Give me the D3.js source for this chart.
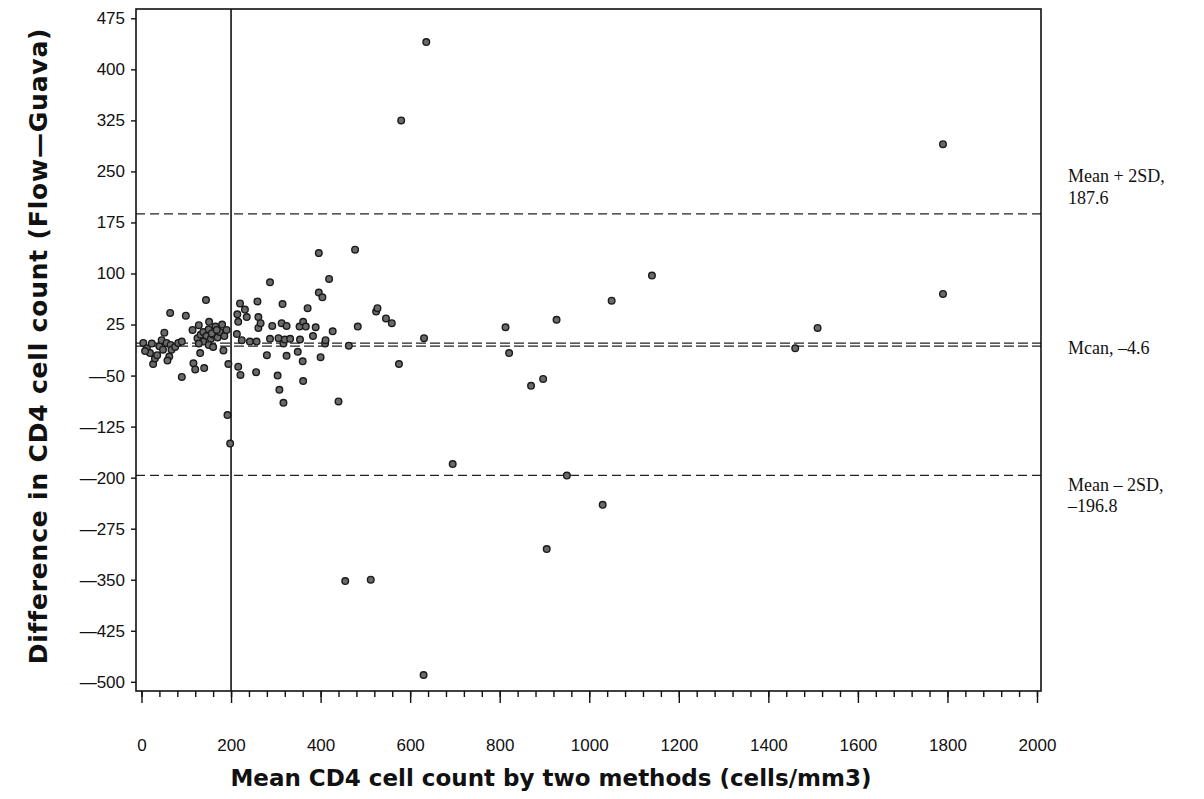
<!DOCTYPE html>
<html>
<head>
<meta charset="utf-8">
<script src="https://cdn.jsdelivr.net/npm/d3@7"></script>
<style>
  body { margin: 0; background: #fff; }
  svg text { fill: #111; }
</style>
</head>
<body>
<div id="chart"></div>
<script>
// Mean of the two methods (x) and difference Flow - Guava (y)
const meanCounts = [
  4, 12, 19, 23, 26, 30, 40, 45, 51, 56, 62, 64, 65, 67, 75, 82, 90, 90, 99, 114,
  116, 120, 128, 131, 140, 144, 151, 125, 132, 138, 145, 150, 155, 160, 165, 170, 175, 180, 185, 138,
  150, 128, 160, 157, 168, 190, 183, 192, 198, 194, 213, 214, 216, 216, 220, 221, 224, 231, 235, 242,
  256, 257, 259, 261, 261, 266, 280, 287, 287, 292, 304, 306, 308, 313, 315, 317, 317, 320, 324, 324,
  332, 349, 353, 354, 360, 361, 361, 367, 371, 383, 389, 396, 396, 400, 404, 410, 411, 419, 427, 440,
  463, 477, 483, 524, 527, 546, 559, 575, 580, 631, 636, 630, 455, 512, 695, 813, 821, 870, 897, 905,
  927, 950, 1030, 1050, 1140, 1460, 1510, 1790, 1790, 8, 35, 48, 58
];
const differences = [
  -2, -10, -17, -3, -33, -25, -7, 2, 13, -2, -22, 42, -5, -12, -8, -2, 0, -52, 38, 17,
  -32, -41, 24, -17, -39, 61, 29, 5, 10, 14, 8, 18, 4, 10, 22, 6, 14, 25, 8, 0,
  -5, -3, -8, 12, 17, 17, -13, -108, -150, -33, 11, 40, 29, -37, 56, -49, 2, 47, 36, 0,
  -45, 0, 59, 36, 20, 27, -20, 87, 4, 23, -50, 5, -71, 27, 55, -3, -90, 3, 23, -21,
  4, -15, 22, 3, -29, 29, -58, 22, 49, 8, 21, 72, 130, -23, 65, -3, 2, 92, 15, -88,
  -6, 135, 22, 44, 49, 34, 27, -33, 325, 5, 440, -490, -352, -350, -180, 21, -17, -65, -55, -305,
  32, -197, -240, 60, 97, -10, 20, 290, 70, -14, -20, -12, -28
];

// Limits of agreement and their hand-written labels
const limitValues = [187.6, -4.6, -196.8];
const limitLabels = [["Mean + 2SD,", "187.6"], ["Mcan, \u20134.6"], ["Mean \u2013 2SD,", "\u2013196.8"]];
const cutoffValue = 200;

const xTicks = d3.range(0, 2001, 200);
const xMinorTicks = d3.range(0, 2001, 40);
const yTicks = d3.range(-500, 476, 75);

const frame = { left: 136, right: 1041, top: 9, bottom: 691 };
const sans = '"Liberation Sans", Arial, sans-serif';
const titleFont = '"DejaVu Sans", "Liberation Sans", sans-serif';

const svg = d3.select('#chart').append('svg')
  .attr('width', 1204)
  .attr('height', 799);

const xScale = d3.scaleLinear().domain([0, 2000]).range([141.5, 1037]);
const yScale = d3.scaleLinear().domain([-500, 475]).range([681.8, 18.3]);

// X axis: long major ticks, short minor ticks, below the frame
const xMinor = svg.append('g')
  .attr('transform', 'translate(0,' + frame.bottom + ')')
  .call(d3.axisBottom(xScale).tickValues(xMinorTicks).tickSize(6).tickFormat(''));
xMinor.select('.domain').remove();

const xAxis = svg.append('g')
  .attr('transform', 'translate(0,' + frame.bottom + ')')
  .call(d3.axisBottom(xScale).tickValues(xTicks).tickSize(12).tickPadding(36).tickFormat(d3.format('d')));
xAxis.select('.domain').remove();
xAxis.selectAll('text')
  .style('font-family', sans)
  .style('font-size', '17px');

const yAxis = svg.append('g')
  .attr('transform', 'translate(' + frame.left + ',0)')
  .call(d3.axisLeft(yScale).tickValues(yTicks).tickSize(5).tickPadding(6)
    .tickFormat(d => d < 0 ? '\u2014' + Math.abs(d) : d));
yAxis.select('.domain').remove();
yAxis.selectAll('text')
  .style('font-family', sans)
  .style('font-size', '17px');

svg.selectAll('.tick line').attr('stroke', '#111').attr('stroke-width', 1.4);

// Limit lines
limitValues.forEach((v, i) => {
  const y = yScale(v);
  if (i === 1) {
    [-1.5, 1.5].forEach(off => {
      svg.append('line')
        .attr('x1', frame.left).attr('x2', frame.right)
        .attr('y1', y + off).attr('y2', y + off)
        .attr('stroke', '#222').attr('stroke-width', 1.3)
        .attr('stroke-dasharray', '10,4');
    });
  } else {
    svg.append('line')
      .attr('x1', frame.left).attr('x2', frame.right)
      .attr('y1', y).attr('y2', y)
      .attr('stroke', '#222').attr('stroke-width', 1.3)
      .attr('stroke-dasharray', '9,5');
  }
});

// Vertical cut-off line at 200 cells/mm3
svg.append('line')
  .attr('x1', xScale(cutoffValue)).attr('x2', xScale(cutoffValue))
  .attr('y1', frame.top).attr('y2', frame.bottom)
  .attr('stroke', '#111').attr('stroke-width', 1.6);

// Points
svg.append('g').selectAll('circle')
  .data(meanCounts.map((m, i) => [m, differences[i]]))
  .enter().append('circle')
  .attr('cx', d => xScale(d[0]))
  .attr('cy', d => yScale(d[1]))
  .attr('r', 3.3)
  .attr('fill', '#6a6a6a')
  .attr('stroke', '#1a1a1a')
  .attr('stroke-width', 1.4);

// Frame
svg.append('rect')
  .attr('x', frame.left).attr('y', frame.top)
  .attr('width', frame.right - frame.left).attr('height', frame.bottom - frame.top)
  .attr('fill', 'none').attr('stroke', '#111').attr('stroke-width', 1.6);

// Axis titles
svg.append('text')
  .attr('x', 551).attr('y', 786)
  .attr('text-anchor', 'middle')
  .style('font-family', titleFont)
  .style('font-weight', 'bold').style('font-size', '23px')
  .text('Mean CD4 cell count by two methods (cells/mm3)');

svg.append('text')
  .attr('transform', 'translate(47,' + 346 + ') rotate(-90)')
  .attr('text-anchor', 'middle')
  .style('font-family', titleFont)
  .style('font-weight', 'bold').style('font-size', '25px')
  .style('letter-spacing', '0.8px')
  .text('Difference in CD4 cell count (Flow\u2014Guava)');

// Limit labels at the right
const labelY = [[182, 204], [354], [491, 512]];
limitLabels.forEach((lines, i) => {
  lines.forEach((t, j) => {
    svg.append('text')
      .attr('x', 1068).attr('y', labelY[i][j])
      .style('font-family', '"Liberation Serif", "Times New Roman", serif')
      .style('font-size', '18px')
      .text(t);
  });
});
</script>
</body>
</html>
